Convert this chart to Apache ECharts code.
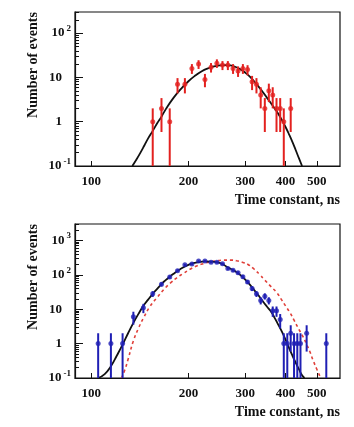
<!DOCTYPE html>
<html>
<head>
<meta charset="utf-8">
<script src="https://cdn.jsdelivr.net/npm/echarts@6/dist/echarts.min.js"></script>
<style>
html, body { margin: 0; padding: 0; background: #fff; }
#chart { width: 354px; height: 427px; }
</style>
</head>
<body>
<div id="chart"></div>
<script>
// top panel: measured counts per 10 ns bin
var topX = [155, 165, 175, 185, 195, 205, 215, 225, 235, 245, 255, 265, 275, 285, 295, 305, 315, 325, 335, 345, 355, 365, 375, 385, 395, 415];
var topN = [1, 2, 1, 7, 7, 16, 20, 9, 17, 21, 19, 19, 16, 14, 16, 15, 8, 7, 4, 2, 5, 4, 2, 2, 1, 2];

// top panel: fit curve
var topFitX = [134, 138, 142, 146, 150, 155, 160, 165, 170, 180, 190, 200, 210, 220, 230, 240, 250, 260, 270, 280, 290, 300, 310, 320, 330, 340, 350, 360, 370, 380, 390, 400, 410, 420, 430, 440, 450];
var topFitY = [0.1, 0.14, 0.2, 0.29, 0.42, 0.62, 0.92, 1.3, 1.9, 3.5, 5.6, 8.2, 11, 13.8, 16, 17.7, 18.7, 19, 18.6, 17.2, 15.2, 12.8, 10.4, 8.1, 6.2, 4.7, 3.5, 2.65, 2.0, 1.5, 1.08, 0.76, 0.52, 0.35, 0.23, 0.15, 0.1];

// bottom panel: measured counts
var botX = [105, 115, 125, 135, 145, 155, 165, 175, 185, 195, 205, 215, 225, 235, 245, 255, 265, 275, 285, 295, 305, 315, 325, 335, 345, 355, 365, 375, 385, 395, 405, 415, 425, 435, 445, 465, 535];
var botN = [1, 1, 1, 6, 11, 28, 53, 86, 132, 195, 205, 250, 250, 232, 230, 210, 152, 135, 115, 88, 62, 40, 28, 18, 24, 18, 9, 9, 5, 1, 1, 2, 1, 1, 1, 2, 1];

// bottom panel: fit (solid black)
var botFitX = [105, 110, 115, 120, 125, 130, 135, 140, 145, 150, 155, 160, 165, 170, 175, 180, 185, 190, 195, 200, 207, 215, 225, 235, 245, 255, 262, 270, 280, 290, 300, 310, 320, 330, 340, 350, 360, 370, 380, 390, 400, 410, 420, 430, 440, 450, 458];
var botFitY = [0.1, 0.13, 0.22, 0.45, 0.93, 2.0, 4.0, 7.3, 12.5, 19, 28, 39, 54, 70, 88, 108, 130, 152, 175, 195, 218, 235, 245, 243, 232, 205, 175, 150, 125, 98, 72, 52, 36, 25, 17, 12, 8.7, 5.6, 3.5, 2.2, 1.3, 0.75, 0.45, 0.28, 0.18, 0.12, 0.1];

// bottom panel: reference curve (red dotted)
var botRefX = [124, 127, 130, 135, 140, 145, 152, 160, 168, 176, 184, 193, 202, 212, 222, 234, 245, 258, 270, 282, 295, 306, 320, 333, 345, 360, 376, 390, 400, 413, 425, 440, 453, 465, 476, 486, 500, 514];
var botRefY = [0.1, 0.17, 0.35, 1.2, 2.8, 5.5, 12, 22, 38, 58, 82, 110, 144, 180, 210, 238, 255, 268, 268, 255, 228, 200, 145, 100, 70, 46, 30, 18, 12.5, 7.9, 4.8, 2.6, 1.6, 0.95, 0.58, 0.34, 0.18, 0.1];

// axis ticks
var xTicks = [100, 200, 300, 400, 500];
var topYTicks = [0.1, 1, 10, 100];
var botYTicks = [0.1, 1, 10, 100, 1000];
var topYMinor = [0.2, 0.3, 0.4, 0.5, 0.6, 0.7, 0.8, 0.9, 2, 3, 4, 5, 6, 7, 8, 9, 20, 30, 40, 50, 60, 70, 80, 90, 200, 300];
var botYMinor = [0.2, 0.3, 0.4, 0.5, 0.6, 0.7, 0.8, 0.9, 2, 3, 4, 5, 6, 7, 8, 9, 20, 30, 40, 50, 60, 70, 80, 90, 200, 300, 400, 500, 600, 700, 800, 900, 2000, 3000];

var FONT = '"Liberation Serif", "DejaVu Serif", serif';
var RED = '#e3211f';
var BLUE = '#1f1fb4';

function pairs(xs, ys) {
    return xs.map(function (x, i) { return [x, ys[i]]; });
}

// poisson error bars, clipped at the axis minimum
function errData(xs, ns, floor) {
    return xs.map(function (x, i) {
        var s = Math.sqrt(ns[i]);
        return [x, Math.max(ns[i] - s, floor), ns[i] + s];
    });
}

function errBar(color) {
    return function (params, api) {
        var p1 = api.coord([api.value(0), api.value(1)]);
        var p2 = api.coord([api.value(0), api.value(2)]);
        return {
            type: 'line',
            shape: { x1: p1[0], y1: p1[1], x2: p2[0], y2: p2[1] },
            style: { stroke: color, lineWidth: 2 }
        };
    };
}

function yLabel(v) {
    var e = Math.round(Math.log10(v));
    if (e === 0) return '{b|1}{g|}';
    if (e === 1) return '{b|10}{g|}';
    return '{b|10}{s|' + e + '}';
}

var labelRich = {
    b: { fontFamily: FONT, fontWeight: 'bold', fontSize: 13, color: '#111' },
    s: { fontFamily: FONT, fontWeight: 'bold', fontSize: 9, color: '#111', padding: [0, 0, 9, 2] },
    g: { width: 9 }
};

function xAxisCfg(gridIndex) {
    return {
        type: 'log', gridIndex: gridIndex, min: 89, max: 590,
        axisLine: { lineStyle: { color: '#111', width: 1.2 } },
        axisTick: { inside: true, length: 5, customValues: xTicks, lineStyle: { color: '#111' } },
        axisLabel: {
            customValues: xTicks, margin: 9, color: '#111',
            fontFamily: FONT, fontWeight: 'bold', fontSize: 13
        },
        splitLine: { show: false },
        minorTick: { show: false }
    };
}

function yMajorCfg(gridIndex, max, ticks) {
    return {
        type: 'log', gridIndex: gridIndex, min: 0.1, max: max, position: 'left',
        axisLine: { show: true, lineStyle: { color: '#111', width: 1.2 } },
        axisTick: { inside: true, length: 8, customValues: ticks, lineStyle: { color: '#111' } },
        axisLabel: { customValues: ticks, margin: 4, formatter: yLabel, rich: labelRich },
        splitLine: { show: false }
    };
}

function yMinorCfg(gridIndex, max, ticks) {
    return {
        type: 'log', gridIndex: gridIndex, min: 0.1, max: max, position: 'left',
        axisLine: { show: false },
        axisTick: { inside: true, length: 4, customValues: ticks, lineStyle: { color: '#111' } },
        axisLabel: { show: false },
        splitLine: { show: false }
    };
}

var chart = echarts.init(document.getElementById('chart'), null, { renderer: 'canvas' });

chart.setOption({
    animation: false,
    backgroundColor: '#fff',
    grid: [
        { left: 75, top: 12, width: 265, height: 154, show: true, borderColor: '#111', borderWidth: 1.2, backgroundColor: 'transparent' },
        { left: 75, top: 224, width: 265, height: 154, show: true, borderColor: '#111', borderWidth: 1.2, backgroundColor: 'transparent' }
    ],
    xAxis: [xAxisCfg(0), xAxisCfg(1)],
    yAxis: [
        yMajorCfg(0, 300, topYTicks),
        yMinorCfg(0, 300, topYMinor),
        yMajorCfg(1, 3000, botYTicks),
        yMinorCfg(1, 3000, botYMinor)
    ],
    graphic: [
        { type: 'text', x: 33, y: 65, rotation: Math.PI / 2, style: { text: 'Number of events', font: 'bold 14px ' + FONT, fill: '#111', align: 'center', verticalAlign: 'middle' } },
        { type: 'text', x: 33, y: 277, rotation: Math.PI / 2, style: { text: 'Number of events', font: 'bold 14px ' + FONT, fill: '#111', align: 'center', verticalAlign: 'middle' } },
        { type: 'text', x: 340, y: 200, style: { text: 'Time constant, ns', font: 'bold 14px ' + FONT, fill: '#111', align: 'right', verticalAlign: 'middle' } },
        { type: 'text', x: 340, y: 412, style: { text: 'Time constant, ns', font: 'bold 14px ' + FONT, fill: '#111', align: 'right', verticalAlign: 'middle' } }
    ],
    series: [
        {
            type: 'line', xAxisIndex: 0, yAxisIndex: 0, data: pairs(topFitX, topFitY),
            smooth: true, showSymbol: false, lineStyle: { color: '#111', width: 1.8 }, z: 3
        },
        {
            type: 'custom', xAxisIndex: 0, yAxisIndex: 0, data: errData(topX, topN, 0.1),
            renderItem: errBar(RED), encode: { x: 0, y: [1, 2] }, z: 4
        },
        {
            type: 'scatter', xAxisIndex: 0, yAxisIndex: 0, data: pairs(topX, topN),
            symbol: 'circle', symbolSize: 5, itemStyle: { color: RED }, z: 5
        },
        {
            type: 'line', xAxisIndex: 1, yAxisIndex: 2, data: pairs(botRefX, botRefY),
            smooth: true, showSymbol: false, lineStyle: { color: '#e0403a', width: 1.6, type: [3, 3] }, z: 2
        },
        {
            type: 'line', xAxisIndex: 1, yAxisIndex: 2, data: pairs(botFitX, botFitY),
            smooth: true, showSymbol: false, lineStyle: { color: '#111', width: 1.8 }, z: 3
        },
        {
            type: 'custom', xAxisIndex: 1, yAxisIndex: 2, data: errData(botX, botN, 0.1),
            renderItem: errBar(BLUE), encode: { x: 0, y: [1, 2] }, z: 4
        },
        {
            type: 'scatter', xAxisIndex: 1, yAxisIndex: 2, data: pairs(botX, botN),
            symbol: 'circle', symbolSize: 5, itemStyle: { color: BLUE }, z: 5
        }
    ]
});
</script>
</body>
</html>
